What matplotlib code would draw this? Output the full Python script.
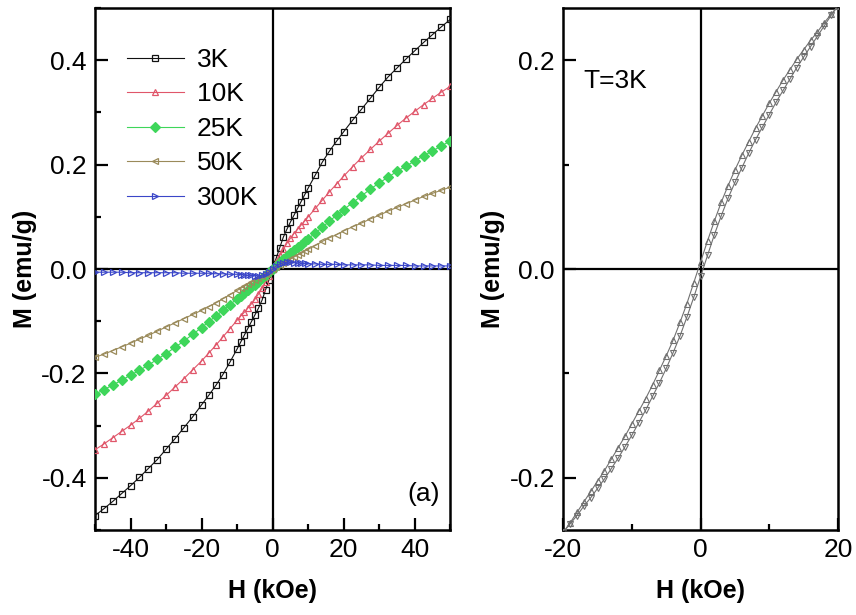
import matplotlib
matplotlib.use("Agg")
import matplotlib.pyplot as plt
from matplotlib.ticker import MultipleLocator

plt.rcParams['font.family'] = ['Liberation Sans', 'DejaVu Sans']
plt.rcParams['axes.unicode_minus'] = False

# ---------------- data (a): M(H) at several temperatures ----------------
H = [-50, -47.5, -45, -42.5, -40, -37.5, -35, -32.5, -30, -27.5, -25, -22.5, -20,
     -18, -16, -14, -12, -10, -9, -8, -7, -6, -5, -4, -3, -2, -1,
     0, 1, 2, 3, 4, 5, 6, 7, 8, 9, 10, 12, 14, 16, 18, 20,
     22.5, 25, 27.5, 30, 32.5, 35, 37.5, 40, 42.5, 45, 47.5, 50]

M_3K = [-0.472, -0.459, -0.445, -0.430, -0.415, -0.399, -0.382, -0.365, -0.345, -0.325,
        -0.304, -0.283, -0.260, -0.242, -0.223, -0.202, -0.178, -0.153, -0.140, -0.127,
        -0.114, -0.101, -0.088, -0.075, -0.060, -0.040, -0.020,
        0.000, 0.021, 0.041, 0.061, 0.076, 0.090, 0.103, 0.116, 0.129, 0.142, 0.155,
        0.180, 0.205, 0.226, 0.245, 0.263, 0.285, 0.306, 0.327, 0.348, 0.368, 0.385,
        0.402, 0.418, 0.434, 0.449, 0.464, 0.478]

M_10K = [-0.346, -0.335, -0.323, -0.311, -0.299, -0.286, -0.272, -0.257, -0.242, -0.226,
         -0.210, -0.193, -0.176, -0.161, -0.146, -0.130, -0.114, -0.098, -0.090, -0.083,
         -0.075, -0.067, -0.058, -0.048, -0.037, -0.025, -0.013,
         0.000, 0.013, 0.026, 0.038, 0.049, 0.059, 0.068, 0.076, 0.084, 0.092, 0.100,
         0.116, 0.132, 0.148, 0.163, 0.178, 0.196, 0.213, 0.229, 0.245, 0.260, 0.275,
         0.289, 0.302, 0.315, 0.327, 0.339, 0.350]

M_25K = [-0.240, -0.231, -0.222, -0.213, -0.203, -0.194, -0.184, -0.173, -0.162, -0.150,
         -0.138, -0.125, -0.112, -0.101, -0.090, -0.079, -0.068, -0.057, -0.052, -0.046,
         -0.041, -0.035, -0.030, -0.024, -0.018, -0.012, -0.006,
         0.000, 0.0065, 0.013, 0.019, 0.025, 0.031, 0.036, 0.042, 0.047, 0.053, 0.058,
         0.069, 0.080, 0.092, 0.103, 0.114, 0.127, 0.140, 0.153, 0.165, 0.176, 0.187,
         0.197, 0.207, 0.217, 0.226, 0.236, 0.245]

M_50K = [-0.169, -0.163, -0.156, -0.149, -0.142, -0.134, -0.127, -0.119, -0.111, -0.103,
         -0.095, -0.087, -0.079, -0.072, -0.065, -0.057, -0.049, -0.041, -0.037, -0.033,
         -0.029, -0.025, -0.021, -0.017, -0.013, -0.009, -0.004,
         0.000, 0.004, 0.008, 0.012, 0.015, 0.019, 0.023, 0.027, 0.030, 0.034, 0.038,
         0.045, 0.053, 0.060, 0.066, 0.073, 0.081, 0.088, 0.096, 0.103, 0.111, 0.118,
         0.125, 0.132, 0.139, 0.145, 0.151, 0.157]

M_300K = [-0.006, -0.006, -0.006, -0.006, -0.007, -0.007, -0.007, -0.007, -0.007, -0.007,
          -0.008, -0.008, -0.008, -0.008, -0.009, -0.009, -0.010, -0.010, -0.011, -0.011,
          -0.012, -0.012, -0.013, -0.013, -0.012, -0.010, -0.006,
          0.000, 0.006, 0.010, 0.012, 0.013, 0.013, 0.012, 0.012, 0.011, 0.011, 0.010,
          0.010, 0.009, 0.009, 0.009, 0.008, 0.008, 0.008, 0.008, 0.007, 0.007, 0.007,
          0.007, 0.006, 0.006, 0.006, 0.006, 0.006]

labels = ['3K', '10K', '25K', '50K', '300K']
colors = ['#111111', '#e0566a', '#3ed65a', '#9a8a5a', '#3a46c8']
markers = ['s', '^', 'D', '<', '>']

# ---------------- data (b): hysteresis loop at 3K ----------------
H_down = [20, 19, 18, 17, 16, 15, 14, 13, 12, 11, 10, 9, 8, 7, 6, 5, 4, 3, 2, 1, 0,
          -1, -2, -3, -4, -5, -6, -7, -8, -9, -10, -11, -12, -13, -14, -15, -16, -17,
          -18, -19, -20]
M_down = [0.252, 0.244, 0.236, 0.227, 0.219, 0.210, 0.201, 0.191, 0.181, 0.170, 0.159,
          0.147, 0.135, 0.122, 0.109, 0.095, 0.080, 0.064, 0.046, 0.027, 0.007,
          -0.013, -0.033, -0.051, -0.068, -0.083, -0.097, -0.111, -0.124, -0.136, -0.148,
          -0.160, -0.171, -0.182, -0.193, -0.203, -0.213, -0.223, -0.233, -0.243, -0.252]
H_up = [-20, -19, -18, -17, -16, -15, -14, -13, -12, -11, -10, -9, -8, -7, -6, -5, -4,
        -3, -2, -1, 0, 1, 2, 3, 4, 5, 6, 7, 8, 9, 10, 11, 12, 13, 14, 15, 16, 17, 18,
        19, 20]
M_up = [-0.252, -0.244, -0.236, -0.227, -0.219, -0.210, -0.201, -0.191, -0.181, -0.170,
        -0.159, -0.147, -0.135, -0.122, -0.109, -0.095, -0.080, -0.064, -0.046, -0.027,
        -0.007, 0.013, 0.033, 0.051, 0.068, 0.083, 0.097, 0.111, 0.124, 0.136, 0.148,
        0.160, 0.171, 0.182, 0.193, 0.203, 0.213, 0.223, 0.233, 0.243, 0.252]

# ---------------- figure ----------------
fig = plt.figure(figsize=(8.56, 6.15), dpi=100)
ax1 = fig.add_axes([0.111, 0.138, 0.415, 0.849])
ax2 = fig.add_axes([0.658, 0.138, 0.321, 0.849])


def style_axis(ax):
    for sp in ax.spines.values():
        sp.set_linewidth(1.8)
    ax.tick_params(which='both', direction='in', width=1.6, labelsize=19,
                   top=False, right=False)
    ax.tick_params(which='major', length=9, pad=6)
    ax.tick_params(which='minor', length=4.5)
    ax.axhline(0, color='black', lw=1.6, zorder=1)
    ax.axvline(0, color='black', lw=1.6, zorder=1)
    ax.set_xlabel('H (kOe)', fontsize=18, fontweight='bold', labelpad=12)
    ax.set_ylabel('M (emu/g)', fontsize=18, fontweight='bold', labelpad=3)


series = [M_3K, M_10K, M_25K, M_50K, M_300K]
for M, lab, c, mk in zip(series, labels, colors, markers):
    filled = c if mk == 'D' else 'none'
    ax1.plot(H, M, color=c, lw=0.8, marker=mk, ms=5, mfc=filled, mec=c,
             mew=0.9, label=lab, zorder=3)

ax1.set_xlim(-50, 50)
ax1.set_ylim(-0.5, 0.5)
ax1.xaxis.set_major_locator(MultipleLocator(20))
ax1.xaxis.set_minor_locator(MultipleLocator(10))
ax1.yaxis.set_major_locator(MultipleLocator(0.2))
ax1.yaxis.set_minor_locator(MultipleLocator(0.1))
style_axis(ax1)
ax1.text(47, -0.43, '(a)', fontsize=19, ha='right', va='center')
leg = ax1.legend(loc='upper left', frameon=False, fontsize=19, handlelength=2.15,
                 labelspacing=0.4, handletextpad=0.5, borderaxespad=0.0,
                 bbox_to_anchor=(0.06, 0.944))

ax2.plot(H_down, M_down, color='#707070', lw=0.8, marker='^', ms=4, mfc='none',
         mec='#707070', mew=0.8, zorder=3)
ax2.plot(H_up, M_up, color='#707070', lw=0.8, marker='v', ms=4, mfc='none',
         mec='#707070', mew=0.8, zorder=3)
ax2.set_xlim(-20, 20)
ax2.set_ylim(-0.25, 0.25)
ax2.xaxis.set_major_locator(MultipleLocator(20))
ax2.xaxis.set_minor_locator(MultipleLocator(10))
ax2.yaxis.set_major_locator(MultipleLocator(0.2))
ax2.yaxis.set_minor_locator(MultipleLocator(0.1))
style_axis(ax2)
ax2.text(-17, 0.18, 'T=3K', fontsize=19, ha='left', va='center')

fig.savefig('out.png', dpi=100)
